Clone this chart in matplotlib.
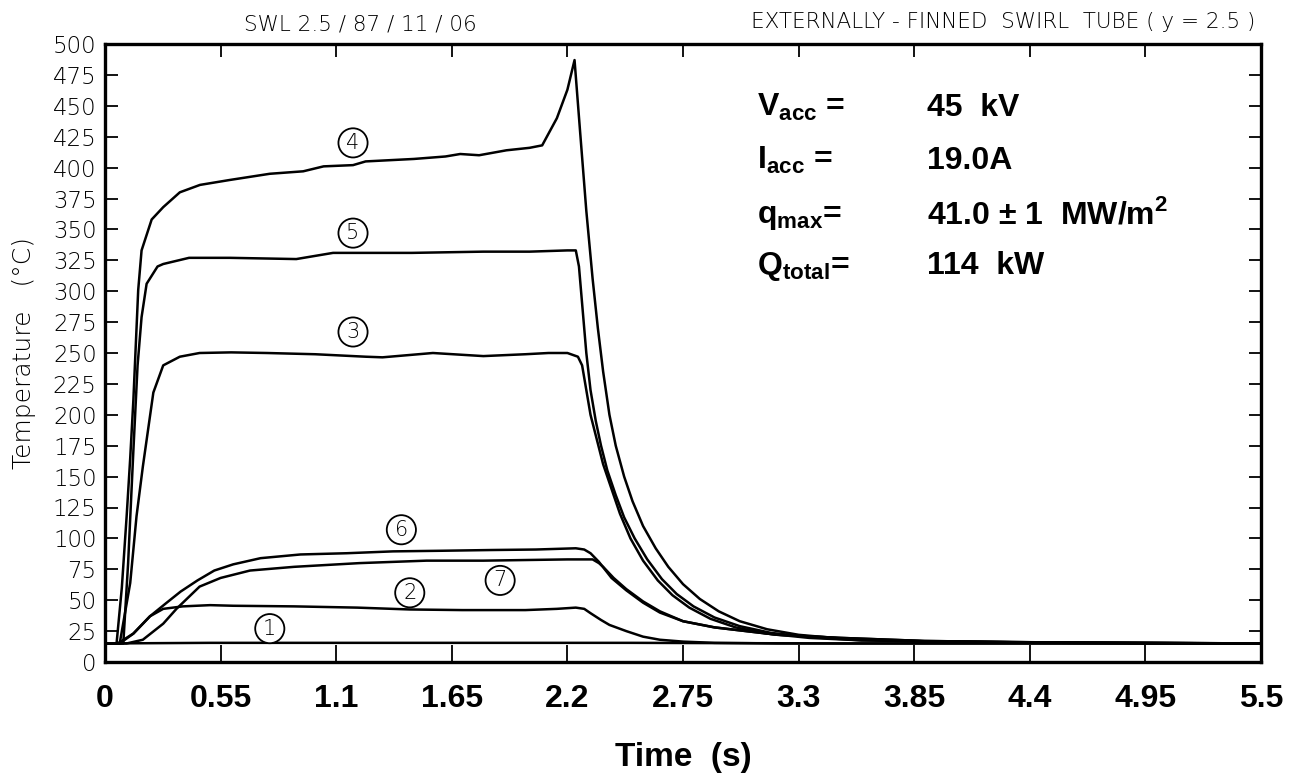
import matplotlib
matplotlib.use('Agg')
import matplotlib.pyplot as plt
import numpy as np

plt.rcParams['font.family'] = ['DejaVu Sans']
plt.rcParams['mathtext.fontset'] = 'custom'
plt.rcParams['mathtext.rm'] = 'Liberation Sans'
plt.rcParams['mathtext.bf'] = 'Liberation Sans:bold'

# thermocouple curves (time s, temperature C)
t1 = [0, 0.5, 1.5, 2.5, 3.5, 5.5]
T1 = [15, 15.5, 15.5, 15.5, 15, 15]

t2 = [0, 0.07, 0.135, 0.214, 0.277, 0.37, 0.5, 0.61, 0.9, 1.2, 1.45, 1.7, 2.0, 2.15,
      2.24, 2.28, 2.31, 2.36, 2.40, 2.48, 2.56, 2.64, 2.75, 2.9, 3.2, 5.5]
T2 = [15, 15, 23, 37, 43, 45, 46, 45.5, 45, 44, 42.5, 42, 42, 43,
      44, 43, 39.5, 34, 30, 25, 20.5, 18, 16.5, 15.5, 15, 15]

t3 = [0, 0.07, 0.12, 0.15, 0.18, 0.23, 0.277, 0.356, 0.45, 0.6, 0.77, 1.0, 1.24, 1.32,
      1.56, 1.8, 2.0, 2.11, 2.2, 2.25, 2.27, 2.29, 2.31, 2.34, 2.37, 2.41, 2.45, 2.50,
      2.56, 2.63, 2.70, 2.78, 2.88, 3.0, 3.15, 3.35, 3.6, 4.0, 4.6, 5.5]
T3 = [15, 15, 64, 118, 158, 218, 240, 247, 250, 250.5, 250, 249, 247, 246.5,
      250, 247.5, 249, 250, 250, 247, 240, 220, 200, 180, 160, 140, 120, 100,
      82, 66, 54, 44, 35, 28, 23, 19.5, 17.5, 16.5, 15.5, 15]

t4 = [0, 0.055, 0.08, 0.103, 0.12, 0.135, 0.158, 0.174, 0.222, 0.277, 0.356, 0.452, 0.594,
      0.784, 0.943, 1.04, 1.18, 1.24, 1.47, 1.62, 1.69, 1.78, 1.91, 2.02, 2.08, 2.15, 2.20,
      2.234, 2.26, 2.29, 2.32, 2.345, 2.37, 2.40, 2.43, 2.47, 2.51, 2.56, 2.62, 2.68, 2.75,
      2.83, 2.92, 3.02, 3.15, 3.3, 3.5, 3.8, 4.2, 4.8, 5.5]
T4 = [15, 15, 60, 118, 165, 212, 301, 333, 358, 368, 380, 386, 390,
      395, 397, 401, 402, 405, 407, 409, 411, 410, 414, 416, 418, 440, 463,
      487, 430, 365, 310, 270, 235, 200, 175, 150, 130, 110, 92, 77, 63,
      51, 41, 33, 26.5, 22, 19, 17, 16, 15.5, 15]

t5 = [0, 0.087, 0.11, 0.135, 0.155, 0.174, 0.198, 0.25, 0.277, 0.40, 0.594, 0.91, 1.085,
      1.46, 1.8, 2.02, 2.2, 2.24, 2.255, 2.27, 2.29, 2.31, 2.335, 2.36, 2.39, 2.43, 2.47,
      2.52, 2.58, 2.65, 2.72, 2.80, 2.90, 3.02, 3.17, 3.37, 3.6, 4.0, 4.6, 5.5]
T5 = [15, 15, 80, 171, 240, 279, 306, 320, 322, 327, 327, 326, 331,
      331, 332, 332, 333, 333, 320, 290, 250, 220, 195, 175, 155, 135, 117,
      100, 83, 67, 55, 45, 36, 29, 23.5, 20, 17.5, 16.5, 15.5, 15]

t6 = [0, 0.06, 0.135, 0.214, 0.29, 0.36, 0.44, 0.52, 0.61, 0.74, 0.93, 1.15, 1.37, 1.6,
      1.84, 2.05, 2.24, 2.28, 2.31, 2.35, 2.41, 2.48, 2.56, 2.64, 2.75, 2.9, 3.0, 3.2,
      3.5, 3.9, 4.4, 5.5]
T6 = [15, 15, 23, 37, 47.5, 57, 66, 74, 79, 84, 87, 88, 89.5, 90,
      90.6, 91, 92, 91, 88, 81, 68, 58, 48, 40, 33, 28, 26, 22,
      19.5, 17, 16, 15]

t7 = [0, 0.103, 0.18, 0.277, 0.34, 0.45, 0.55, 0.69, 0.9, 1.21, 1.53, 1.8, 2.0, 2.2,
      2.32, 2.35, 2.37, 2.42, 2.48, 2.56, 2.64, 2.75, 2.9, 3.0, 3.2, 3.5, 3.9, 4.4, 5.5]
T7 = [15, 15, 18, 31, 43, 61, 68, 74, 77, 80, 82, 82, 82.5, 83,
      83, 80, 77, 68, 59, 49, 41, 33, 28, 26, 22, 19.5, 17, 16, 15]

curves = [(t1, T1), (t2, T2), (t3, T3), (t4, T4), (t5, T5), (t6, T6), (t7, T7)]

# circled curve numbers (label, time, temperature)
tags = ['1', '2', '3', '4', '5', '6', '7']
tag_t = [0.784, 1.45, 1.18, 1.18, 1.18, 1.41, 1.88]
tag_T = [27, 56, 267, 420, 347, 107, 66]

xticks = [0, 0.55, 1.1, 1.65, 2.2, 2.75, 3.3, 3.85, 4.4, 4.95, 5.5]
xticklabels = ['0', '0.55', '1.1', '1.65', '2.2', '2.75', '3.3', '3.85', '4.4', '4.95', '5.5']
yticks = list(range(0, 501, 25))

fig = plt.figure(figsize=(13.01, 7.73), dpi=100)
ax = fig.add_axes([105/1301, 1-662/773, (1261-105)/1301, (662-44)/773])

for t, T in curves:
    ax.plot(t, T, color='black', lw=1.8, solid_joinstyle='round')

for lab, x, y in zip(tags, tag_t, tag_T):
    ax.text(x, y, lab, ha='center', va='center', fontsize=15, fontweight='light',
            bbox=dict(boxstyle='circle,pad=0.22', fc='white', ec='black', lw=1.3))

ax.set_xlim(0, 5.5)
ax.set_ylim(0, 500)
ax.set_xticks(xticks)
ax.set_xticklabels(xticklabels, fontsize=23, fontweight='bold', family=['Liberation Sans'])
ax.set_yticks(yticks)
ax.set_yticklabels([str(v) for v in yticks], fontsize=16.5, fontweight='light')
ax.tick_params(axis='x', direction='in', length=12, width=1.3, pad=16, top=True)
ax.tick_params(axis='y', direction='in', length=9, width=1.3, pad=6, right=True)
for tk in ax.xaxis.get_major_ticks():
    tk.tick2line.set_markersize(9)
for sp in ax.spines.values():
    sp.set_linewidth(2.4)

ax.set_xlabel('Time  (s)', fontsize=24, fontweight='bold', family=['Liberation Sans'], labelpad=20)
ax.set_ylabel('Temperature   (°C)', fontsize=18, fontweight='light', labelpad=12)

# operating conditions
bold = dict(fontsize=23, fontweight='bold', family=['Liberation Sans'], va='baseline', ha='left')
ax.text(3.10, 442, r'V$_\mathbf{acc}$ =', **bold)
ax.text(3.91, 442, '45  kV', **bold)
ax.text(3.10, 399, r'I$_\mathbf{acc}$ =', **bold)
ax.text(3.91, 399, '19.0A', **bold)
ax.text(3.10, 355, r'q$_\mathbf{max}$=', **bold)
ax.text(3.91, 355, r'41.0 $\mathbf{\pm}$ 1  MW/m$^\mathbf{2}$', **bold)
ax.text(3.10, 314, r'Q$_\mathbf{total}$=', **bold)
ax.text(3.91, 314, '114  kW', **bold)

fig.text(360/1301, 1-30/773, 'SWL 2.5 / 87 / 11 / 06', ha='center', va='baseline',
         fontsize=15.5, fontweight='light')
fig.text(1255/1301, 1-28/773, 'EXTERNALLY - FINNED  SWIRL  TUBE ( y = 2.5 )', ha='right',
         va='baseline', fontsize=15.5, fontweight='light')

fig.savefig('out.png', dpi=100)
